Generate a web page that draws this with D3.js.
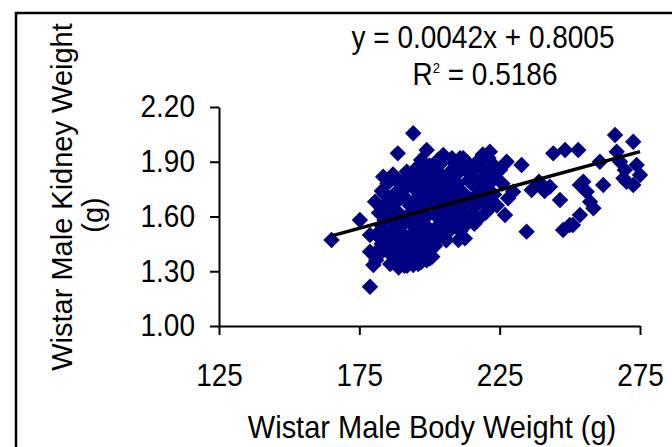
<!DOCTYPE html>
<html>
<head>
<meta charset="utf-8">
<script src="https://cdn.jsdelivr.net/npm/d3@7"></script>
<style>
  html, body { margin: 0; padding: 0; background: #fff; }
  svg { display: block; font-family: "Liberation Sans", Arial, sans-serif; }
</style>
</head>
<body>
<div id="chart"></div>
<script>
(function() {
"use strict";

// body weight (g), kidney weight (g)
const wistarMale = [
  [194.2,2.056],[188.7,1.946],[199.0,1.964],[204.9,1.937],[210.9,1.919],[183.5,1.818],
  [191.9,1.846],[180.6,1.681],[175.2,1.581],[165.1,1.471],[178.8,1.499],[178.8,1.407],
  [180.0,1.334],[178.8,1.215],[187.7,1.371],[194.2,1.334],[200.2,1.371],[210.3,1.471],
  [205.5,1.480],
  [181,1.36],[182,1.42],[181,1.50],[183,1.55],[182,1.62],[184,1.66],[183,1.74],[185,1.78],
  [184,1.47],[182,1.39],[185,1.60],[184,1.52],
  [186,1.34],[187,1.40],[186,1.46],[188,1.52],[187,1.58],[189,1.62],[186,1.66],[188,1.73],
  [189,1.79],[187,1.83],[190,1.45],[189,1.37],[190,1.55],[186,1.70],
  [191,1.33],[192,1.38],[193,1.44],[191,1.50],[194,1.55],[192,1.60],[193,1.66],[191,1.71],
  [194,1.76],[192,1.82],[195,1.86],[193,1.48],[195,1.40],[194,1.63],[191,1.57],[195,1.69],
  [190,1.78],[193,1.36],
  [196,1.34],[197,1.39],[196,1.45],[198,1.50],[197,1.56],[199,1.60],[196,1.64],[198,1.68],
  [197,1.73],[199,1.77],[196,1.80],[198,1.85],[200,1.88],[197,1.91],[199,1.42],[200,1.53],
  [198,1.62],[200,1.71],[196,1.58],[199,1.36],
  [201,1.38],[202,1.44],[201,1.49],[203,1.55],[202,1.61],[204,1.65],[201,1.69],[203,1.74],
  [202,1.79],[204,1.83],[201,1.87],[203,1.91],[205,1.58],[204,1.50],[205,1.70],[202,1.66],
  [205,1.78],
  [206,1.47],[207,1.52],[206,1.58],[208,1.62],[207,1.67],[209,1.71],[206,1.75],[208,1.80],
  [207,1.84],[209,1.89],[210,1.55],[210,1.65],[208,1.92],[206,1.64],
  [211,1.52],[212,1.58],[211,1.63],[213,1.68],[212,1.73],[214,1.80],[211,1.85],[213,1.88],
  [215,1.62],[214,1.70],[212,1.92],[215,1.78],
  [216,1.65],[217,1.72],[218,1.80],[216,1.86],[219,1.68],[220,1.76],[218,1.90],[221,1.84],
  [217,1.58],[220,1.62],[222,1.79],[219,1.94],
  [183,1.45],[185,1.41],[188,1.46],[190,1.41],[192,1.46],[189,1.32],[194,1.43],[197,1.47],
  [195,1.52],[193,1.58],[189,1.69],[191,1.75],[193,1.80],[195,1.75],[197,1.79],[199,1.83],
  [200,1.78],[203,1.84],[204,1.89],[209,1.84],[210,1.78],[208,1.73],[211,1.69],[214,1.84],
  [216,1.80],[217,1.90],[219,1.86],[221,1.92],[223,1.88],[220,1.70],[218,1.74],[209,1.60],
  [208,1.56],[206,1.53],[204,1.58],[202,1.52],[200,1.47],[198,1.44],[201,1.43],[203,1.48],
  [199,1.66],[197,1.62],[195,1.59],[202,1.72],[204,1.76],[207,1.78],[186,1.52],[188,1.57],
  [184,1.58],[187,1.64],[184,1.72],[196,1.38],[198,1.40],[192,1.33],[197,1.35],[212,1.54],
  [214,1.60],[216,1.56],
  [223,1.72],[224,1.66],[226,1.78],[228,1.70],[223,1.82],[222.6,1.718],
  [212.6,1.480],[213.2,1.90],[216.7,1.70],[215.5,1.57],[221.5,1.645],[218,1.79],
  [266.1,2.047],[272.6,2.010],[244.1,1.946],[248.3,1.964],[253.0,1.964],[221.5,1.955],
  [227.5,1.900],[232.8,1.882],[225.1,1.855],[229.8,1.736],[236.4,1.745],[242.9,1.763],
  [246.5,1.690],[226.9,1.608],[234.6,1.517],[250.0,1.553],[247.6,1.526],[253.6,1.608],
  [254.8,1.791],[256.0,1.736],[257.2,1.681],[258.4,1.645],[260.7,1.900],[261.9,1.773],
  [266.7,1.955],[269.1,1.809],[273.8,1.882],[275.0,1.827],[272.6,1.773],[267.9,1.900],
  [270.2,1.790],[269.6,1.855],[239,1.79],[241,1.74],[253.6,1.773],[251.1,1.553]
];

const xTicks = [125, 175, 225, 275];
const yTicks = [1.00, 1.30, 1.60, 1.90, 2.20];
const trendSlope = 0.0042;
const trendIntercept = 0.8005;
const eqLabel = "y = 0.0042x + 0.8005";
const r2Label = "0.5186";

const W = 672, H = 447;
const m = { left: 219, right: 640, top: 107, bottom: 326 };
const stretch = 1.1; // glyphs in the picture are a little taller than wide

const svg = d3.select("#chart")
              .append("svg")
              .attr("width", W)
              .attr("height", H);

// chart area border (cut off right and bottom in the original)
svg.append("rect")
   .attr("x", 16).attr("y", 13)
   .attr("width", 720).attr("height", 500)
   .attr("fill", "none")
   .attr("stroke", "#000")
   .attr("stroke-width", 2.5);

const x = d3.scaleLinear().domain([125, 275]).range([m.left, m.right]);
const y = d3.scaleLinear().domain([1.0, 2.2]).range([m.bottom, m.top]);

const styleAxis = g => {
  g.select(".domain").attr("stroke", "#000").attr("stroke-width", 2);
  g.selectAll(".tick line").attr("stroke", "#000").attr("stroke-width", 2);
  g.selectAll(".tick text")
   .attr("fill", "#000")
   .attr("transform", `scale(1,${stretch})`)
   .style("font-size", "28px")
   .style("font-family", "'Liberation Sans', Arial, sans-serif");
};

svg.append("g")
   .attr("transform", `translate(0,${m.bottom})`)
   .call(d3.axisBottom(x).tickValues(xTicks).tickSize(9).tickSizeOuter(0))
   .call(styleAxis)
   .call(g => g.selectAll(".tick text").attr("y", 34.5));

svg.append("g")
   .attr("transform", `translate(${m.left},0)`)
   .call(d3.axisLeft(y).tickValues(yTicks).tickFormat(d3.format(".2f"))
           .tickSize(9).tickSizeOuter(0).tickPadding(15))
   .call(styleAxis);

// markers
const diamond = d3.symbol().type(d3.symbolSquare).size(135);
svg.append("g")
   .selectAll("path")
   .data(wistarMale)
   .enter()
   .append("path")
   .attr("d", diamond)
   .attr("transform", d => `translate(${x(d[0])},${y(d[1])}) rotate(45)`)
   .attr("fill", "#000080");

// linear trendline
const [xMin, xMax] = d3.extent(wistarMale, d => d[0]);
svg.append("line")
   .attr("x1", x(xMin)).attr("y1", y(trendSlope * xMin + trendIntercept))
   .attr("x2", x(xMax)).attr("y2", y(trendSlope * xMax + trendIntercept))
   .attr("stroke", "#000")
   .attr("stroke-width", 3.5);

const label = (tx, ty, size) => svg.append("text")
  .attr("transform", `translate(${tx},${ty}) scale(1,${stretch})`)
  .attr("text-anchor", "middle")
  .style("font-size", size + "px");

// equation labels
label(483, 48, 28).text(eqLabel);

const r2 = label(485, 85, 28);
r2.append("tspan").text("R");
r2.append("tspan").attr("dy", -11).style("font-size", "13px").text("2");
r2.append("tspan").attr("dy", 11).text(" = " + r2Label);

// axis titles
label(432, 438, 29).text("Wistar Male Body Weight (g)");

svg.append("text")
   .attr("transform", "translate(72,197) rotate(-90)")
   .attr("text-anchor", "middle")
   .style("font-size", "29px")
   .text("Wistar Male Kidney Weight");

svg.append("text")
   .attr("transform", "translate(103,215) rotate(-90)")
   .attr("text-anchor", "middle")
   .style("font-size", "29px")
   .text("(g)");

})();
</script>
</body>
</html>
